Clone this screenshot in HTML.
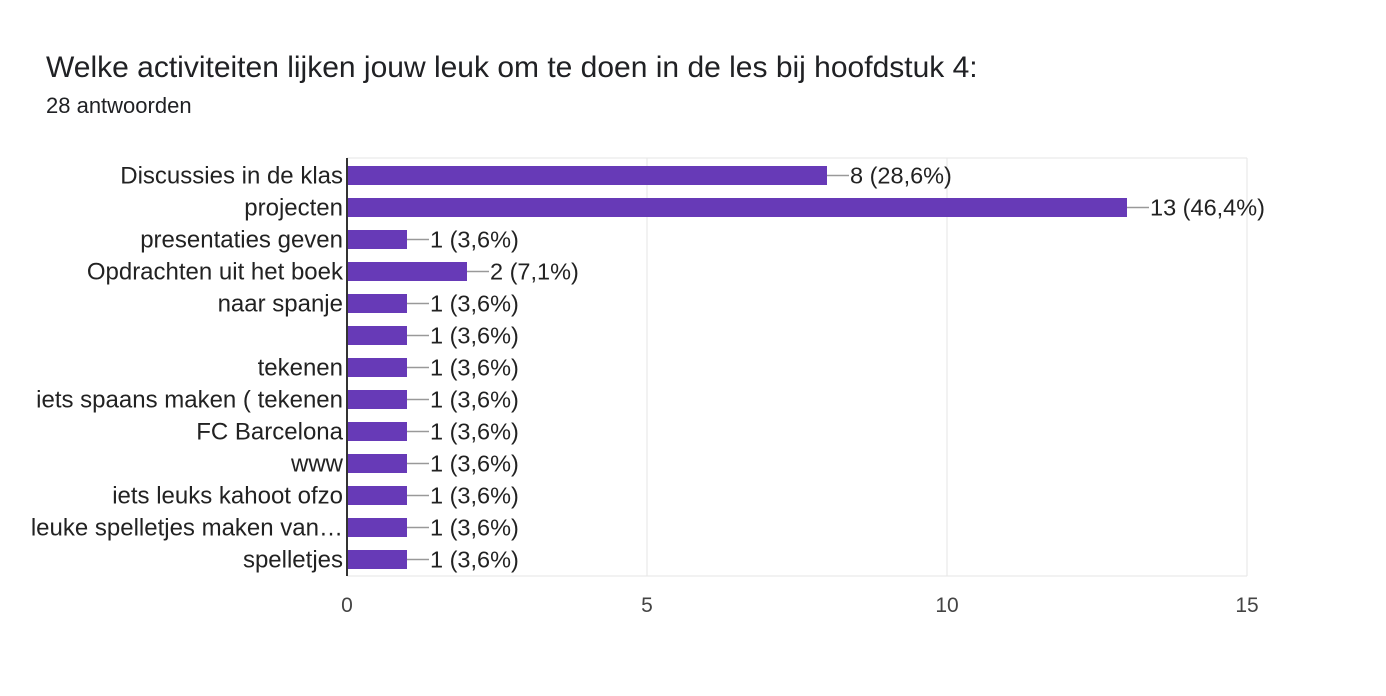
<!DOCTYPE html>
<html><head><meta charset="utf-8"><style>
body{margin:0;background:#fff;font-family:"Liberation Sans",Arial,sans-serif;}
#wrap{position:relative;width:1386px;height:696px;overflow:hidden;}
.title{position:absolute;left:46px;top:50px;font-size:30px;line-height:36px;color:#202124;white-space:nowrap;}
.sub{position:absolute;left:46px;top:93px;font-size:22px;line-height:26px;color:#202124;}
</style></head><body>
<div id="wrap">
<div class="title">Welke activiteiten lijken jouw leuk om te doen in de les bij hoofdstuk 4:</div>
<div class="sub">28 antwoorden</div>
<svg id="chart" width="1386" height="696" style="position:absolute;left:0;top:0"></svg>
</div>
<script>
const categories=["Discussies in de klas","projecten","presentaties geven","Opdrachten uit het boek","naar spanje","","tekenen","iets spaans maken ( tekenen","FC Barcelona","www","iets leuks kahoot ofzo","leuke spelletjes maken van…","spelletjes"];
const values=[8,13,1,2,1,1,1,1,1,1,1,1,1];
const labels=["8 (28,6%)","13 (46,4%)","1 (3,6%)","2 (7,1%)","1 (3,6%)","1 (3,6%)","1 (3,6%)","1 (3,6%)","1 (3,6%)","1 (3,6%)","1 (3,6%)","1 (3,6%)","1 (3,6%)"];
const ticks=[0,5,10,15];
const NS="http://www.w3.org/2000/svg";
const svg=document.getElementById('chart');
const x0=347,xmax=15,pw=900,top0=158,bottom=576,step=32,bh=19,firstC=175.5;
const xs=v=>x0+v/xmax*pw;
const yc=i=>firstC+i*step;
function mk(t,a){const e=document.createElementNS(NS,t);for(const k in a)e.setAttribute(k,a[k]);svg.appendChild(e);return e;}
ticks.forEach(t=>{
  if(t>0){const g=mk('line',{x1:xs(t),x2:xs(t),y1:top0,y2:bottom,stroke:'#e6e6e6','stroke-width':1});
  
  }
  const l=mk('text',{x:xs(t),y:612,'text-anchor':'middle','font-size':21,fill:'#444','font-family':'Liberation Sans, Arial, sans-serif'});
  l.textContent=t;
  
  
});
const tl=mk('line',{x1:x0,x2:xs(15),y1:top0,y2:top0,stroke:'#e6e6e6'});


const bl=mk('line',{x1:x0,x2:xs(15),y1:bottom,y2:bottom,stroke:'#e6e6e6'});


categories.forEach((c,i)=>{
  const y=yc(i);
  const r=mk('rect',{x:x0,y:y-bh/2,width:xs(values[i])-x0,height:bh,fill:'#673ab7'});
  
  
  const ln=mk('line',{x1:xs(values[i]),x2:xs(values[i])+22,y1:y,y2:y,stroke:'#999','stroke-width':1.5});
  
  
  const v=mk('text',{x:xs(values[i])+23,y:y+8,'font-size':23.5,fill:'#222','font-family':'Liberation Sans, Arial, sans-serif'});
  v.textContent=labels[i];
  
  
  const t=mk('text',{x:343,y:y+8,'text-anchor':'end','font-size':24,fill:'#222','font-family':'Liberation Sans, Arial, sans-serif'});
  t.textContent=c;
  
  
});
const ax=mk('line',{x1:x0,x2:x0,y1:top0,y2:bottom,stroke:'#333','stroke-width':2});


</script>
</body></html>
